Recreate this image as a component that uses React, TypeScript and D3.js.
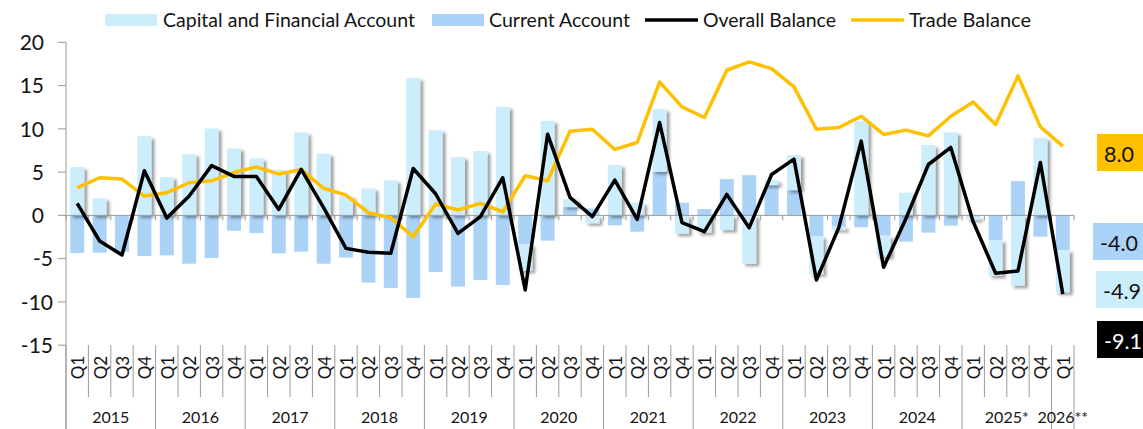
import React from 'react';
import * as d3 from 'd3';

// quarters, 2015 Q1 .. 2026 Q1
const years = ['2015', '2016', '2017', '2018', '2019', '2020', '2021', '2022', '2023', '2024', '2025*', '2026**'];
const quartersPerYear = [4, 4, 4, 4, 4, 4, 4, 4, 4, 4, 4, 1];
const quarterNames = ['Q1', 'Q2', 'Q3', 'Q4'];

const currentAccount = [
  -4.35, -4.31, -4.2, -4.69,
  -4.62, -5.58, -4.92, -1.77,
  -2.04, -4.38, -4.19, -5.58,
  -4.88, -7.77, -8.38, -9.54,
  -6.54, -8.23, -7.46, -8.04,
  -3.35, -2.92, 0.96, 0.8,
  -1.15, -1.88, 5.04, 1.46,
  0.73, 4.19, 4.65, 3.5,
  2.92, -2.38, -1.31, -1.38,
  -2.35, -3.04, -2.0, -1.19,
  -0.15, -2.85, 3.96, -2.46,
  -4.0,
];

const capitalAccount = [
  5.58, 1.96, 0, 9.15,
  4.42, 7.08, 10.04, 7.73,
  6.58, 5.27, 9.58, 7.12,
  2.23, 3.12, 4.04, 15.88,
  9.85, 6.73, 7.42, 12.54,
  -3.04, 10.92, 0.92, -0.9,
  5.81, 1.46, 7.23, -2.12,
  -2.0, -1.69, -5.58, 0.54,
  4.04, -4.42, -0.38, 10.88,
  -2.42, 2.62, 8.12, 9.58,
  -0.35, -4.12, -8.12, 8.96,
  -4.9,
];

const overallBalance = [
  1.38, -2.96, -4.58, 5.15,
  -0.31, 2.23, 5.75, 4.5,
  4.5, 0.69, 5.31, 0.9,
  -3.81, -4.27, -4.38, 5.42,
  2.5, -2.08, -0.15, 4.35,
  -8.62, 9.38, 2.08, -0.15,
  4.08, -0.46, 10.73, -0.85,
  -1.88, 2.42, -1.42, 4.73,
  6.5, -7.46, -1.42, 8.58,
  -6.0, -0.35, 5.88, 7.85,
  -0.73, -6.69, -6.42, 6.12,
  -9.1,
];

const tradeBalance = [
  3.19, 4.35, 4.2, 2.23,
  2.62, 3.77, 4.0, 4.95,
  5.6, 4.77, 5.31, 3.12,
  2.35, 0.31, -0.27, -2.46,
  1.31, 0.62, 1.38, 0.42,
  4.58, 4.0, 9.73, 9.96,
  7.62, 8.42, 15.42, 12.54,
  11.31, 16.77, 17.73, 16.96,
  14.85, 9.96, 10.15, 11.46,
  9.35, 9.85, 9.19, 11.46,
  13.1, 10.5, 16.12, 10.23,
  8.0,
];

const yTicks = [-15, -10, -5, 0, 5, 10, 15, 20];

const W = 1143;
const H = 429;
const FONT = 'Lato, "Open Sans", sans-serif';
const CAPITAL = '#CCEDFB';
const CURRENT = '#ABD3F8';
const GOLD = '#FFC000';
const AXIS = '#9a9a9a';
const TEXT = '#141414';

const quarters: { q: string; year: number }[] = [];
quartersPerYear.forEach((n, yi) => {
  for (let k = 0; k < n; k++) quarters.push({ q: quarterNames[k], year: yi });
});

const App = () => {
  const n = quarters.length;
  const x = d3.scaleBand<number>()
    .domain(d3.range(n))
    .range([66, 1074])
    .paddingInner(0.375)
    .paddingOuter(0.1875);
  const step = x.step();
  const y = d3.scaleLinear().domain([-15, 20]).range([345.2, 42.3]);
  const cx = (i: number) => (x(i) as number) + x.bandwidth() / 2;
  const edge = (i: number) => 66 + i * step;

  const rows = quarters.map((_, i) => ({ current: currentAccount[i], capital: capitalAccount[i] }));
  const stacked = d3.stack<any>()
    .keys(['current', 'capital'])
    .offset(d3.stackOffsetDiverging)(rows);

  const line = d3.line<number>().x((_, i) => cx(i)).y(d => y(d));

  // year group boundaries
  const yearStarts: number[] = [];
  let acc = 0;
  quartersPerYear.forEach(c => { yearStarts.push(acc); acc += c; });
  const yearBounds = [...yearStarts, n];

  const last = n - 1;
  const callouts = [
    { text: tradeBalance[last].toFixed(1), fill: GOLD, color: TEXT, x: 1097, y: 134, w: 50 },
    { text: currentAccount[last].toFixed(1), fill: CURRENT, color: TEXT, x: 1093, y: 223, w: 54 },
    { text: capitalAccount[last].toFixed(1), fill: CAPITAL, color: TEXT, x: 1096, y: 271, w: 50 },
    { text: overallBalance[last].toFixed(1), fill: '#000', color: '#fff', x: 1097, y: 321, w: 50 },
  ];

  return (
    <svg width={W} height={H} style={{ position: 'absolute', left: 0, top: 0, background: '#fff' }} fontFamily={FONT}>
      <defs>
        <filter id="barShadow" x="-50%" y="-20%" width="200%" height="140%">
          <feDropShadow dx="3" dy="2.5" stdDeviation="1.7" floodColor="#000" floodOpacity="0.38" />
        </filter>
      </defs>

      {/* legend */}
      <g fill={TEXT} fontSize={19.5}>
        <rect x={105} y={14} width={52} height={12} fill={CAPITAL} />
        <text x={163} y={27} textLength={252} lengthAdjust="spacingAndGlyphs">Capital and Financial Account</text>
        <rect x={432} y={14} width={52} height={12} fill={CURRENT} />
        <text x={489} y={27} textLength={141} lengthAdjust="spacingAndGlyphs">Current Account</text>
        <line x1={645} x2={698} y1={20} y2={20} stroke="#000" strokeWidth={3.5} />
        <text x={703} y={27} textLength={133} lengthAdjust="spacingAndGlyphs">Overall Balance</text>
        <line x1={851} x2={904} y1={20} y2={20} stroke={GOLD} strokeWidth={3.5} />
        <text x={909} y={27} textLength={122} lengthAdjust="spacingAndGlyphs">Trade Balance</text>
      </g>

      {/* y axis */}
      <line x1={66} x2={66} y1={y(20)} y2={H} stroke={AXIS} />
      {yTicks.map(t => (
        <g key={t}>
          <line x1={58} x2={66} y1={y(t)} y2={y(t)} stroke={AXIS} />
          <text x={t < 0 ? 53 : 44} y={y(t) + 7.8} textAnchor="end" fontSize={21} fill={TEXT}>{t}</text>
        </g>
      ))}

      {/* bars */}
      {stacked.map(series => (
        <g key={series.key} fill={series.key === 'capital' ? CAPITAL : CURRENT}
          filter={series.key === 'capital' ? 'url(#barShadow)' : undefined}>
          {series.map((d, i) => {
            const top = y(Math.max(d[0], d[1]));
            const bot = y(Math.min(d[0], d[1]));
            if (bot - top < 0.1) return null;
            return <rect key={i} x={x(i)} y={top} width={x.bandwidth()} height={bot - top} />;
          })}
        </g>
      ))}

      {/* zero line with ticks */}
      <line x1={66} x2={1074} y1={y(0)} y2={y(0)} stroke={AXIS} />
      {d3.range(n + 1).map(i => (
        <line key={i} x1={edge(i)} x2={edge(i)} y1={y(0)} y2={y(0) + 5} stroke={AXIS} />
      ))}

      {/* lines */}
      <path d={line(tradeBalance) || ''} fill="none" stroke={GOLD} strokeWidth={3.5} strokeLinejoin="round" />
      <path d={line(overallBalance) || ''} fill="none" stroke="#000" strokeWidth={3.5} strokeLinejoin="round" />

      {/* category axis: quarter separators and labels */}
      {d3.range(n + 1).map(i => (
        <line key={i} x1={edge(i)} x2={edge(i)} y1={y(-15)}
          y2={yearBounds.includes(i) ? H : 397} stroke={AXIS} />
      ))}
      {quarters.map((d, i) => (
        <text key={i} transform={`translate(${cx(i) + 7},367.5) rotate(-90)`} textAnchor="middle"
          fontSize={17} fill={TEXT}>{d.q}</text>
      ))}
      {years.map((yr, yi) => (
        <text key={yr} x={(edge(yearBounds[yi]) + edge(yearBounds[yi + 1])) / 2} y={423}
          textAnchor="middle" fontSize={16} fill={TEXT}>{yr}</text>
      ))}

      {/* latest value callouts */}
      {callouts.map(c => (
        <g key={c.text + c.y}>
          <rect x={c.x} y={c.y} width={c.w} height={37} fill={c.fill} />
          <text x={c.x + 7} y={c.y + 28} fontSize={21.5} fill={c.color}>{c.text}</text>
        </g>
      ))}
    </svg>
  );
};

export default App;
